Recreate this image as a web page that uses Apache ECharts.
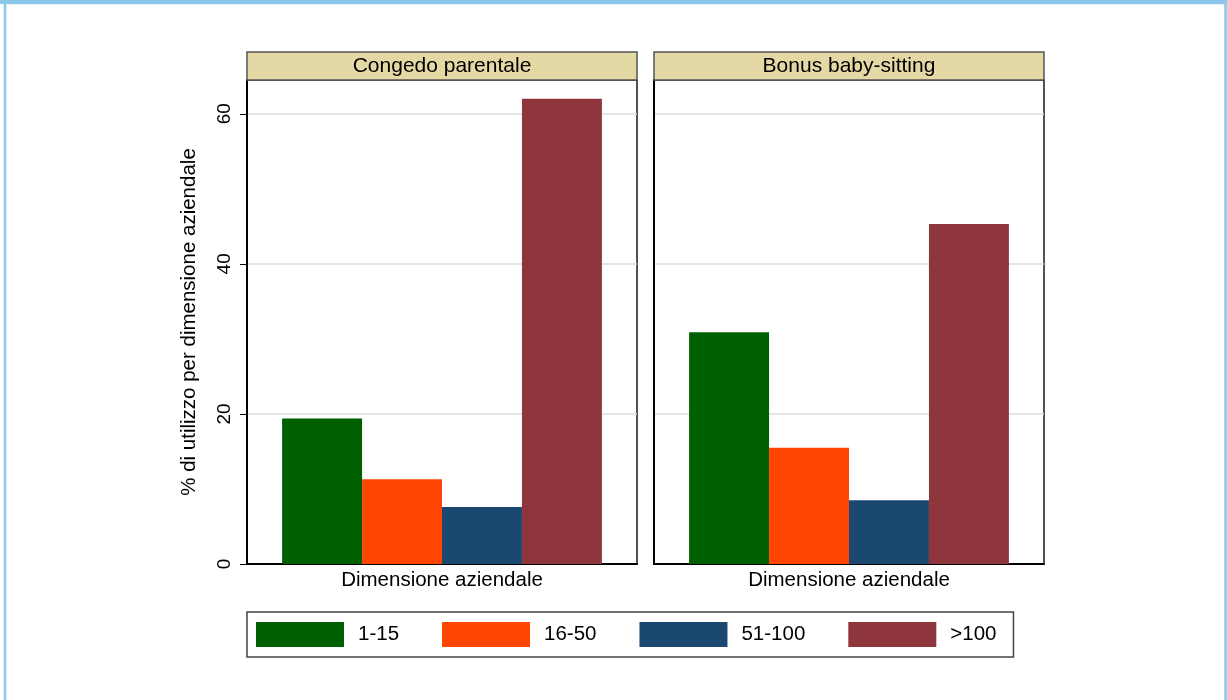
<!DOCTYPE html>
<html>
<head>
<meta charset="utf-8">
<script src="https://cdn.jsdelivr.net/npm/echarts@6/dist/echarts.min.js"></script>
<style>
html,body{margin:0;padding:0;background:#fff;}
#chart{width:1227px;height:700px;}
</style>
</head>
<body>
<div id="chart"></div>
<script>
// ---- data ----
const sizeClasses = ['1-15', '16-50', '51-100', '>100'];
const panelTitles = ['Congedo parentale', 'Bonus baby-sitting'];
const congedoValues = [19.4, 11.3, 7.6, 62.0];
const bonusValues = [30.9, 15.5, 8.5, 45.3];
const yTicks = [0, 20, 40, 60];
const xTitle = 'Dimensione aziendale';
const yTitle = '% di utilizzo per dimensione aziendale';

// ---- style ----
const FONT = '"Liberation Sans", Arial, sans-serif';
const colors = ['#005F00', '#FF4500', '#1B4870', '#8F353C'];
const panelValues = [congedoValues, bonusValues];
const gridLeft = [247, 654];
const gridW = 390, gridTop = 80, gridH = 484;
const yMax = 64.5;

const chart = echarts.init(document.getElementById('chart'), null, {renderer: 'canvas'});

const grids = gridLeft.map(l => ({
  left: l, top: gridTop, width: gridW, height: gridH,
  containLabel: false, outerBoundsMode: 'none',
  show: true, borderColor: '#1a1a1a', borderWidth: 1.5, backgroundColor: '#fff'
}));

const xAxes = gridLeft.map((l, i) => ({
  type: 'category', gridIndex: i, data: [xTitle],
  axisLine: {show: true, lineStyle: {color: '#000', width: 2}},
  axisTick: {show: false}, axisLabel: {show: false},
  name: xTitle, nameLocation: 'middle', nameGap: 6, nameMoveOverlap: false,
  nameTextStyle: {fontFamily: FONT, fontSize: 20.5, color: '#000', verticalAlign: 'top'}
}));

const yAxes = gridLeft.map((l, i) => ({
  type: 'value', gridIndex: i, min: 0, max: yMax, interval: 20,
  axisLine: {show: true, onZero: false, lineStyle: {color: '#000', width: 2}},
  axisTick: {show: i === 0, length: 7, customValues: yTicks, lineStyle: {color: '#000', width: 1}},
  axisLabel: {show: i === 0, customValues: yTicks, rotate: 90, margin: 13,
    fontFamily: FONT, fontSize: 19, color: '#000'},
  splitLine: {show: true, lineStyle: {color: '#DCDCDC', width: 1.5}},
  name: i === 0 ? yTitle : '', nameLocation: 'middle', nameRotate: 90, nameGap: 47,
  nameMoveOverlap: false,
  nameTextStyle: {fontFamily: FONT, fontSize: 20.5, color: '#000'}
}));

const series = [];
panelValues.forEach((vals, p) => {
  sizeClasses.forEach((cls, k) => {
    series.push({
      type: 'bar', name: cls, xAxisIndex: p, yAxisIndex: p,
      data: [vals[k]],
      itemStyle: {color: colors[k]},
      barGap: '0%', barCategoryGap: '18%',
      emphasis: {disabled: true}, animation: false
    });
  });
});

const graphics = [];
// outer frame
graphics.push({type: 'rect', shape: {x: 0, y: 0, width: 1227, height: 4}, style: {fill: '#8AC8EB'}, z: 100});
graphics.push({type: 'rect', shape: {x: 5, y: 3, width: 1220.5, height: 720}, style: {fill: 'none', stroke: '#8AC8EB', lineWidth: 2.5}, z: 100});
// panel headers
gridLeft.forEach((l, i) => {
  graphics.push({
    type: 'rect', shape: {x: l, y: 52, width: gridW, height: 28},
    style: {fill: '#E4D9A5', stroke: '#555', lineWidth: 1.5}, z: 10
  });
  graphics.push({
    type: 'text', x: l + gridW / 2, y: 66,
    style: {text: panelTitles[i], fontFamily: FONT, fontSize: 21, fill: '#000',
      align: 'center', verticalAlign: 'middle'}, z: 11
  });
});

chart.setOption({
  animation: false,
  backgroundColor: '#fff',
  color: colors,
  grid: grids,
  xAxis: xAxes,
  yAxis: yAxes,
  legend: {
    data: sizeClasses, left: 247, top: 612, orient: 'horizontal',
    icon: 'rect', itemWidth: 88, itemHeight: 25, itemGap: 43,
    padding: [10, 17, 10, 9],
    borderColor: '#444', borderWidth: 1.5, backgroundColor: '#fff',
    selectedMode: false,
    textStyle: {fontFamily: FONT, fontSize: 20.5, color: '#000', padding: [0, 0, 0, 9]}
  },
  series: series,
  graphic: graphics
});
</script>
</body>
</html>
